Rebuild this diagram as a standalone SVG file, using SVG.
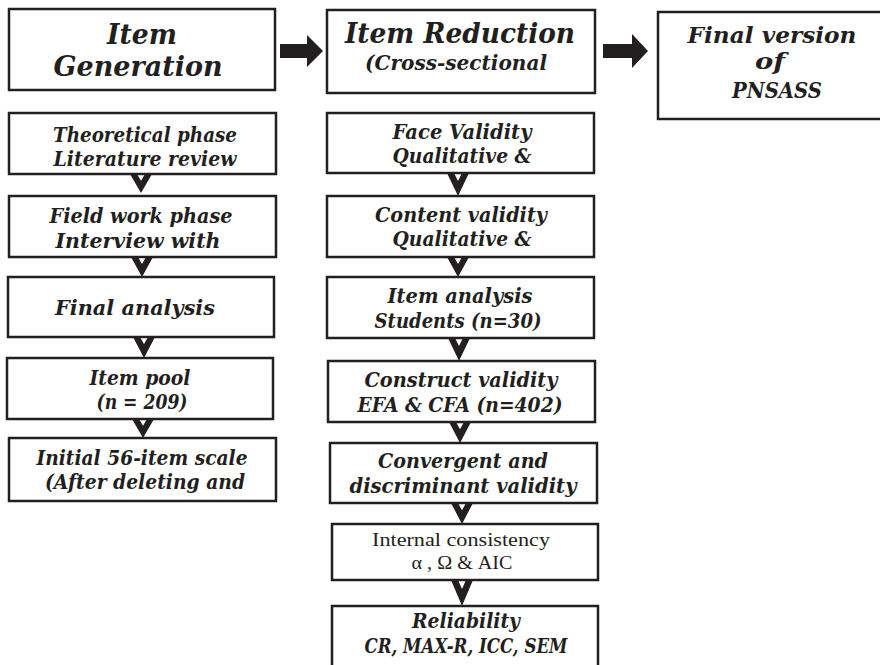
<svg xmlns="http://www.w3.org/2000/svg" width="880" height="665" viewBox="0 0 880 665">
<style>
.box{fill:#fff;stroke:#231f20;stroke-width:2.5}
.t{font-family:"DejaVu Serif","Liberation Serif",serif;font-weight:bold;font-style:italic;font-size:20px;fill:#231f20;text-anchor:middle}
.h{font-size:27px}
.f{font-size:22px}
.r{font-family:"Liberation Serif","DejaVu Serif",serif;font-weight:normal;font-style:normal;font-size:19px}
.arr{fill:#231f20}
</style>
<defs>
<path id="chev" d="M-11,0 L-4,0 L0,7 L4,0 L11,0 L0,20 Z"/>
</defs>
<rect width="880" height="665" fill="#fff"/>
<g id="connectors" class="arr">
<path d="M280,44 H307 V35 L323,51 L307,67 V58 H280 Z"/>
<path d="M603,44 H632 V34 L648,51 L632,68 V58 H603 Z"/>
<use href="#chev" transform="translate(141,174) scale(1,0.95)"/>
<use href="#chev" transform="translate(142,257) scale(1,1)"/>
<use href="#chev" transform="translate(144,337) scale(1,1.05)"/>
<use href="#chev" transform="translate(143,419) scale(1,0.95)"/>
<use href="#chev" transform="translate(458,173) scale(1,1.15)"/>
<use href="#chev" transform="translate(458,257) scale(1,1)"/>
<use href="#chev" transform="translate(459,338) scale(1,1.15)"/>
<use href="#chev" transform="translate(460,422) scale(1,1.05)"/>
<use href="#chev" transform="translate(462,503) scale(1,1.05)"/>
<use href="#chev" transform="translate(462,580) scale(1,1.3)"/>
</g>
<g id="item-generation">
<rect class="box" x="9" y="9" width="266" height="81"/>
<text class="t h" x="142" y="44" textLength="70" lengthAdjust="spacingAndGlyphs">Item</text>
<text class="t h" x="138" y="76" textLength="169" lengthAdjust="spacingAndGlyphs">Generation</text>
</g>
<g id="item-reduction">
<rect class="box" x="327" y="10" width="268" height="83"/>
<text class="t h" x="460" y="43" textLength="230" lengthAdjust="spacingAndGlyphs">Item Reduction</text>
<text class="t" x="456" y="70" textLength="182" lengthAdjust="spacingAndGlyphs">(Cross-sectional</text>
</g>
<g id="final-version">
<rect class="box" x="658" y="12" width="226" height="107"/>
<text class="t f" x="772" y="43" textLength="169" lengthAdjust="spacingAndGlyphs">Final version</text>
<text class="t f" x="770" y="69" textLength="30" lengthAdjust="spacingAndGlyphs">of</text>
<text class="t f" x="777" y="98" textLength="90" lengthAdjust="spacingAndGlyphs">PNSASS</text>
</g>
<g id="theoretical">
<rect class="box" x="9" y="113" width="267" height="61"/>
<text class="t" x="145" y="142" textLength="184" lengthAdjust="spacingAndGlyphs">Theoretical phase</text>
<text class="t" x="145" y="166" textLength="183" lengthAdjust="spacingAndGlyphs">Literature review</text>
</g>
<g id="fieldwork">
<rect class="box" x="9" y="196" width="267" height="61"/>
<text class="t" x="141" y="223" textLength="183" lengthAdjust="spacingAndGlyphs">Field work phase</text>
<text class="t" x="138" y="248" textLength="165" lengthAdjust="spacingAndGlyphs">Interview with</text>
</g>
<g id="final-analysis">
<rect class="box" x="8" y="277" width="266" height="60"/>
<text class="t" x="135" y="315" textLength="160" lengthAdjust="spacingAndGlyphs">Final analysis</text>
</g>
<g id="item-pool">
<rect class="box" x="7" y="358" width="266" height="61"/>
<text class="t" x="140" y="385" textLength="101" lengthAdjust="spacingAndGlyphs">Item pool</text>
<text class="t" x="142" y="409" textLength="91" lengthAdjust="spacingAndGlyphs">(n = 209)</text>
</g>
<g id="initial-scale">
<rect class="box" x="9" y="438" width="267" height="63"/>
<text class="t" x="142" y="465" textLength="211" lengthAdjust="spacingAndGlyphs">Initial 56-item scale</text>
<text class="t" x="145" y="489" textLength="200" lengthAdjust="spacingAndGlyphs">(After deleting and</text>
</g>
<g id="face-validity">
<rect class="box" x="327" y="113" width="267" height="60"/>
<text class="t" x="462" y="139" textLength="139" lengthAdjust="spacingAndGlyphs">Face Validity</text>
<text class="t" x="462" y="163" textLength="139" lengthAdjust="spacingAndGlyphs">Qualitative &amp;</text>
</g>
<g id="content-validity">
<rect class="box" x="327" y="196" width="267" height="61"/>
<text class="t" x="461" y="222" textLength="172" lengthAdjust="spacingAndGlyphs">Content validity</text>
<text class="t" x="462" y="246" textLength="139" lengthAdjust="spacingAndGlyphs">Qualitative &amp;</text>
</g>
<g id="item-analysis">
<rect class="box" x="327" y="277" width="267" height="61"/>
<text class="t" x="460" y="303" textLength="145" lengthAdjust="spacingAndGlyphs">Item analysis</text>
<text class="t" x="458" y="328" textLength="167" lengthAdjust="spacingAndGlyphs">Students (n=30)</text>
</g>
<g id="construct-validity">
<rect class="box" x="328" y="361" width="267" height="61"/>
<text class="t" x="461" y="387" textLength="193" lengthAdjust="spacingAndGlyphs">Construct validity</text>
<text class="t" x="460" y="412" textLength="205" lengthAdjust="spacingAndGlyphs">EFA &amp; CFA (n=402)</text>
</g>
<g id="convergent">
<rect class="box" x="330" y="443" width="267" height="60"/>
<text class="t" x="463" y="468" textLength="170" lengthAdjust="spacingAndGlyphs">Convergent and</text>
<text class="t" x="463" y="493" textLength="227" lengthAdjust="spacingAndGlyphs">discriminant validity</text>
</g>
<g id="internal-consistency">
<rect class="box" x="332" y="524" width="266" height="56"/>
<text class="t r" x="461" y="546" textLength="178" lengthAdjust="spacingAndGlyphs">Internal consistency</text>
<text class="t r" x="462" y="569" textLength="101" lengthAdjust="spacingAndGlyphs">α  , Ω &amp; AIC</text>
</g>
<g id="reliability">
<rect class="box" x="332" y="606" width="266" height="72"/>
<text class="t" x="466" y="628" textLength="108" lengthAdjust="spacingAndGlyphs">Reliability</text>
<text class="t" x="466" y="653" textLength="203" lengthAdjust="spacingAndGlyphs">CR, MAX-R, ICC, SEM</text>
</g>
</svg>
